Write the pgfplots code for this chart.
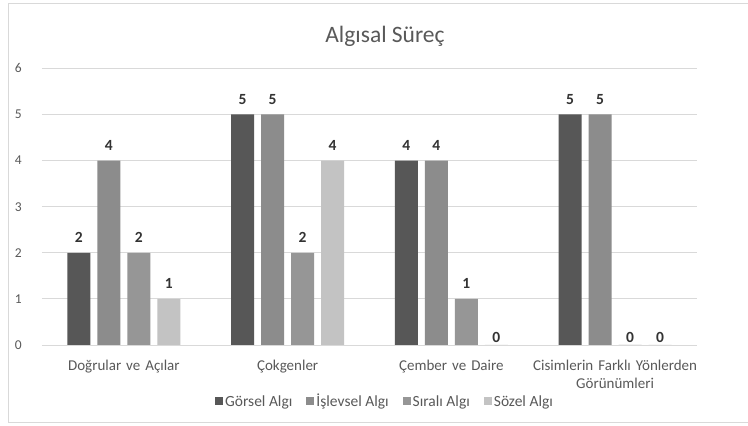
\documentclass[border=0pt]{standalone}
\usepackage{pgfplots}
\pgfplotsset{compat=1.18}
\usepackage{fontspec}
\setmainfont{Carlito}

\definecolor{gorsel}{HTML}{575757}
\definecolor{islevsel}{HTML}{8C8C8C}
\definecolor{sirali}{HTML}{969696}
\definecolor{sozel}{HTML}{C3C3C3}
\definecolor{gridgray}{HTML}{D9D9D9}
\definecolor{labelgray}{HTML}{595959}
\definecolor{valuegray}{HTML}{333333}

\begin{document}
\begin{tikzpicture}[x=1pt,y=1pt]
\useasboundingbox (0,0) rectangle (748,426);
\fill[white] (0,0) rectangle (748,426);
\draw[gridgray, line width=1pt] (748,422) -- (8,422) -- (8,3) -- (748,3);
\node[anchor=base, font=\fontsize{23.5}{28}\selectfont, text=labelgray] at (385,383) {Algısal Süreç};
\begin{axis}[
  at={(42pt,81pt)}, anchor=south west,
  scale only axis, width=655pt, height=276.6pt,
  ybar=7pt, bar width=23pt,
  xmin=-0.5, xmax=3.5, ymin=0, ymax=6,
  xtick={0,1,2,3},
  xticklabels={Doğrular ve Açılar, Çokgenler, Çember ve Daire, {Cisimlerin Farklı Yönlerden\\Görünümleri}},
  ytick={0,1,2,3,4,5,6},
  yticklabels={0,1,2,3,4,5,6},
  ymajorgrids, grid style={gridgray, line width=0.9pt},
  axis line style={draw=none},
  major tick length=0pt,
  /pgf/number format/assume math mode=true,
  x tick label style={align=center, text width=175pt, font=\fontsize{15}{18}\selectfont, text=labelgray, inner sep=0pt, anchor=north, yshift=-15pt},
  y tick label style={font=\fontsize{13.5}{16}\selectfont, text=labelgray, inner sep=0pt, anchor=east, xshift=-20pt},
  nodes near coords={\pgfmathprintnumber{\pgfplotspointmeta}},
  visualization depends on={y \as \myy},
  every node near coord/.append style={font=\fontsize{15.5}{18}\selectfont\bfseries, text=valuegray, anchor=base, inner sep=0pt, yshift={ifthenelse(\myy==0,2,10)}},
  legend columns=4,
  legend style={at={(0.5237,-0.204)}, anchor=center, draw=none, fill=none,
    font=\fontsize{15.5}{18}\selectfont, text=labelgray,
    nodes={inner sep=2pt},
    /tikz/every even column/.append style={column sep=12pt}},
  every axis plot post/.append style={legend image code/.code={\fill[##1] (0pt,-4pt) rectangle (8pt,4pt);}},
]
\addplot[fill=gorsel, draw=none] coordinates {(0,2) (1,5) (2,4) (3,5)};
\addplot[fill=islevsel, draw=none] coordinates {(0,4) (1,5) (2,4) (3,5)};
\addplot[fill=sirali, draw=none] coordinates {(0,2) (1,2) (2,1) (3,0)};
\addplot[fill=sozel, draw=none] coordinates {(0,1) (1,4) (2,0) (3,0)};
\legend{Görsel Algı, İşlevsel Algı, Sıralı Algı, Sözel Algı}
\end{axis}
\end{tikzpicture}
\end{document}
